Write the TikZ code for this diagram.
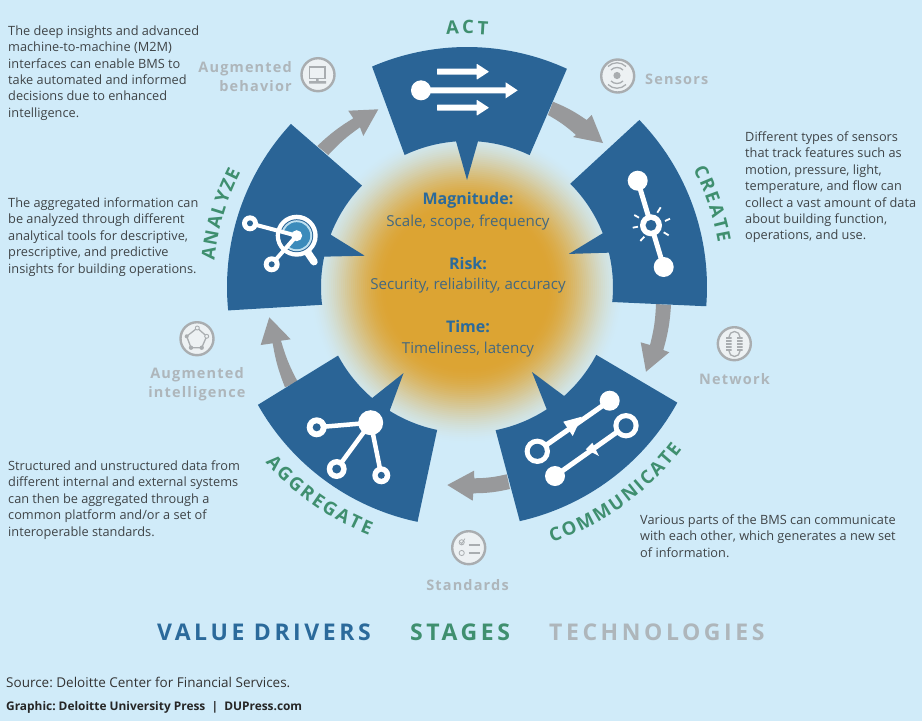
\documentclass[tikz,border=0pt]{standalone}
\usepackage{fontspec}
\setmainfont{Open Sans}
\newfontfamily\spacedfont[LetterSpace=8]{Open Sans}
\newfontfamily\wordmark[LetterSpace=15.5]{Open Sans}
\usetikzlibrary{decorations.text}
\definecolor{bgsky}{HTML}{D0EBF9}
\definecolor{goldcore}{HTML}{DCA433}
\definecolor{segblue}{HTML}{2A6496}
\definecolor{midblue}{HTML}{3B8BBB}
\definecolor{lightring}{HTML}{BEE0F0}
\definecolor{stagegreen}{HTML}{3F8F6F}
\definecolor{flowgray}{HTML}{98999B}
\definecolor{techgray}{HTML}{AEB6BB}
\definecolor{icongray}{HTML}{A9ADB0}
\definecolor{icondisc}{HTML}{EDF1F3}
\definecolor{bodytext}{HTML}{3F4447}
\definecolor{drivertext}{HTML}{2B6A9B}
\definecolor{centertext}{HTML}{44687F}
\newcommand\segment[7]{%
  \fill[segblue] ([shift={(#1:240)}]0,0) arc[start angle=#1,end angle=#2,radius=240]
    -- ([shift={(#3:146)}]0,0) arc[start angle=#3,end angle=#4,radius=146]
    -- (#6:107) -- ([shift={(#5:146)}]0,0) arc[start angle=#5,end angle=#7,radius=146] -- cycle;}
\newcommand\flowarrow[7]{%
  \fill[flowgray] #1 to[bend left=6] #2 -- #3 -- #4 -- #5 -- #6 to[bend right=6] #7 -- cycle;}
\tikzset{
  bodynote/.style={anchor=north west,inner sep=0pt,align=left,text=bodytext,font=\frenchspacing\fontsize{12.75}{16.4}\selectfont},
  techlabel/.style={inner sep=0pt,text=techgray,font=\spacedfont\bfseries\fontsize{14.5}{18.6}\selectfont},
  centerhead/.style={inner sep=0pt,text=drivertext,font=\bfseries\fontsize{16}{18}\selectfont},
  centerline/.style={inner sep=0pt,text=centertext,font=\fontsize{15.1}{18}\selectfont},
  wordlabel/.style={inner sep=0pt,anchor=west,font=\wordmark\bfseries\fontsize{23}{25}\selectfont},
  techdisc/.style={draw=icongray,line width=2.4pt,fill=icondisc},
  iconline/.style={draw=icongray,line width=1.3pt},
  whiteline/.style={draw=white,line width=5pt},
  stagetext/.style={decorate,decoration={text along path,text={|\bfseries\fontsize{18.5}{20}\selectfont\color{stagegreen}|#1},text align={fit to path}}}
}
\begin{document}
\begin{tikzpicture}[x=1pt,y=-1pt]
\useasboundingbox (0,0) rectangle (922,721);
\fill[bgsky] (0,0) rectangle (922,721);
% glow as concentric discs
\foreach \rr in {160,158,...,2}{
  \pgfmathsetmacro\ss{min(1,max(0,(\rr-80)/80))}
  \pgfmathsetmacro\pp{100*(1-\ss*\ss*(3-2*\ss))}
  \fill[goldcore!\pp!bgsky] (467,287) circle[radius=\rr];
}
% flow arrows
\flowarrow{(553,101.7)}{(586.7,120)}{(591.7,115)}{(603,143)}{(573,137)}{(576,135)}{(548,115)}
\flowarrow{(671,305)}{(663.3,350)}{(669.3,352.3)}{(646,371.7)}{(640.7,342.3)}{(650,345)}{(656,304)}
\flowarrow{(510,489)}{(473.3,493.3)}{(472.7,500.7)}{(447.3,485)}{(474,470.7)}{(474.3,478.3)}{(506.7,474.3)}
\flowarrow{(285,387.3)}{(272.7,343.3)}{(260.7,345)}{(269.3,317.3)}{(290.7,339.3)}{(281,340.7)}{(297.7,381.7)}
\flowarrow{(317.3,146)}{(353.3,118.3)}{(348.3,110.7)}{(378.3,109.3)}{(363.3,136)}{(360,127.3)}{(328.3,155)}
% segments and curved stage names
\begin{scope}[shift={(467,287)},y=1pt]
\segment{113.3}{65.4}{64.6}{85.7}{94.3}{90}{115.3}
\segment{44.1}{-4.6}{-5.9}{13.6}{21.6}{18}{45}
\segment{-28.8}{-77.3}{-78.7}{-56.9}{-48.3}{-52.6}{-27.7}
\segment{258.1-360}{209.4-360}{208-360}{229.5-360}{238-360}{233.6-360}{258.2-360}
\segment{185.6}{137.2}{136}{159}{168}{163}{187}
\path[stagetext=ACT] (94.7:253) arc[start angle=94.7,end angle=85.3,radius=253];
\path[stagetext=CREATE] (27.5:255) arc[start angle=27.5,end angle=10,radius=255];
\path[stagetext=ANALYZE] (174:254) arc[start angle=174,end angle=153,radius=254];
\path[stagetext=COMMUNICATE] (-71.6:269) arc[start angle=-71.6,end angle=-37,radius=269];
\path[stagetext=AGGREGATE] (221:267) arc[start angle=221,end angle=248.5,radius=267];
\end{scope}
% ACT icon
\fill[white] (421,90.3) circle[radius=10];
\fill[white] (421,87.3) rectangle (505.7,93.3) (505.7,82.3) -- (517.7,90.3) -- (505.7,98.3) -- cycle;
\fill[white,rounded corners=0.5pt] (437,68.7) rectangle (476.7,74.7) (476.7,63.7) -- (489,71.7) -- (476.7,79.7) -- cycle;
\fill[white,rounded corners=0.5pt] (437,104.7) rectangle (476.7,110.7) (476.7,99.7) -- (489,107.7) -- (476.7,115.7) -- cycle;
% CREATE icon
\draw[whiteline] (637.7,180.7) -- (663.7,267);
\fill[white] (637.7,180.7) circle[radius=10] (663.7,267) circle[radius=10] (651,225.3) circle[radius=11];
\fill[segblue] (651,225.3) circle[radius=5.5];
\draw[white,line width=1.8pt] (634.3,215) -- (639,217.7) (632.7,227.7) -- (638,226.7) (640.3,241) -- (644.3,236.7)
  (663.7,232.3) -- (668.7,235.3) (665,221) -- (670,218.7) (657.3,212.7) -- (660.7,207.3);
% COMMUNICATE icon
\draw[whiteline] (537.3,451.3) -- (609.7,400.7) (555,476) -- (626,425.7);
\fill[white] (609.7,400.7) circle[radius=10] (555,476) circle[radius=10] (537.3,451.3) circle[radius=12.7] (626,425.7) circle[radius=12.7];
\fill[segblue] (537.3,451.3) circle[radius=7.5] (626,425.7) circle[radius=7.5];
\fill[white] (563.3,421.7) -- (572.7,436) -- (581.7,416.7) -- cycle;
\fill[white] (585.7,449.3) -- (599,456) -- (592.3,442.7) -- cycle;
% AGGREGATE icon
\draw[draw=white,line width=4.5pt] (370.7,422.7) -- (316.7,427.3) (370.7,422.7) -- (336.7,469) (370.7,422.7) -- (381.3,475.3);
\fill[white] (370.7,422.7) circle[radius=12.5] (316.7,427.3) circle[radius=10] (336.7,469) circle[radius=10] (381.3,475.3) circle[radius=9];
\fill[segblue] (316.7,427.3) circle[radius=4] (336.7,469) circle[radius=4.5] (381.3,475.3) circle[radius=3.5];
% ANALYZE icon
\draw[draw=white,line width=7.5pt,line cap=round] (308.3,253.3) -- (314,261.7);
\fill[white] (296.7,235.7) circle[radius=21];
\fill[segblue] (296.7,235.7) circle[radius=16.5];
\fill[lightring] (296.7,235.7) circle[radius=15.5];
\fill[midblue] (296.7,235.7) circle[radius=13.5];
\begin{scope}
\clip (296.7,235.7) circle[radius=16.5];
\fill[segblue] (296.7,235.7) -- (250,223.3) -- (271.7,264.3) -- cycle;
\end{scope}
\draw[draw=white,line width=4pt] (250,223.3) -- (296.7,235.7) (271.7,264.3) -- (296.7,235.7);
\fill[white] (296.7,235.7) circle[radius=5.5] (250,223.3) circle[radius=8] (271.7,264.3) circle[radius=8];
\fill[segblue] (250,223.3) circle[radius=3] (271.7,264.3) circle[radius=3];
% technology icons
\draw[techdisc] (617.7,76) circle[radius=16.5];
\fill[icongray] (617,75.5) circle[radius=3.6];
\draw[iconline] (611,70) arc[start angle=-135,end angle=-45,radius=8.5] (608,66.5) arc[start angle=-135,end angle=-45,radius=12.7];
\draw[iconline] (611,81) arc[start angle=135,end angle=45,radius=8.5] (608,84.5) arc[start angle=135,end angle=45,radius=12.7];
\draw[techdisc] (318,74.7) circle[radius=16.5];
\draw[iconline] (309.5,67) rectangle (325,78.3);
\fill[icongray] (316,78.3) rectangle (318.5,81) (309,81) rectangle (326,83.5);
\draw[techdisc] (734.3,343.7) circle[radius=16.5];
\draw[iconline] (729,337) arc[start angle=180,end angle=360,radius=5.5] (729,351) arc[start angle=180,end angle=0,radius=5.5];
\foreach \py in {338,341,344,347,350}{\fill[icongray] (726,\py-0.9) rectangle (731.5,\py+0.9) (737,\py-0.9) rectangle (742.5,\py+0.9);}
\draw[techdisc] (468.7,547.7) circle[radius=16.5];
\draw[icongray,line width=0.8pt] (461.7,542.3) circle[radius=2.6] (461.7,553) circle[radius=2.6] (460.5,542.2) -- (461.7,543.6) -- (465,538.6);
\draw[iconline] (468.5,545) -- (480,545) (468.5,553) -- (480,553);
\draw[techdisc] (197,338.7) circle[radius=16.5];
\draw[iconline] (197.3,328) -- (206.7,336.3) -- (201.7,347.7) -- (191,347.7) -- (186.7,336.3) -- cycle;
\fill[icongray] (201.7,347.7) circle[radius=2.2] (191,347.7) circle[radius=2.2] (186.7,336.3) circle[radius=2];
\draw[icongray,line width=0.9pt,fill=icondisc] (197.3,328) circle[radius=2] (206.7,336.3) circle[radius=2];
% technology labels
\node[techlabel,anchor=east,align=right] (lbehavior) at (292,76.5) {Augmented\\behavior};
\node[techlabel,anchor=west] (lsensors) at (645,79) {Sensors};
\node[techlabel,anchor=west] (lnetwork) at (699,379) {Network};
\node[techlabel,align=center] (lintel) at (197,384) {Augmented\\intelligence};
\node[techlabel] (lstandards) at (467.5,585) {Standards};
% notes
\node[bodynote] (nact) at (8,25.5) {The deep insights and advanced\\machine-to-machine (M2M)\\interfaces can enable BMS to\\take automated and informed\\decisions due to enhanced\\intelligence.};
\node[bodynote] (nanalyze) at (8,197.5) {The aggregated information can\\be analyzed through different\\analytical tools for descriptive,\\prescriptive, and predictive\\insights for building operations.};
\node[bodynote] (ncreate) at (745,131.5) {Different types of sensors\\that track features such as\\motion, pressure, light,\\temperature, and flow can\\collect a vast amount of data\\about building function,\\operations, and use.};
\node[bodynote] (naggr) at (8,460.5) {Structured and unstructured data from\\different internal and external systems\\can then be aggregated through a\\common platform and/or a set of\\interoperable standards.};
\node[bodynote] (ncomm) at (640,514.5) {Various parts of the BMS can communicate\\with each other, which generates a new set\\of information.};
% centre
\node[centerhead] (hmag) at (468,200) {Magnitude:};
\node[centerline] (tmag) at (468,222.5) {Scale, scope, frequency};
\node[centerhead] (hrisk) at (468,264) {Risk:};
\node[centerline] (trisk) at (468,285.5) {Security, reliability, accuracy};
\node[centerhead] (htime) at (468,327) {Time:};
\node[centerline] (ttime) at (468,349.5) {Timeliness, latency};
% legend
\node[wordlabel,text=drivertext] (wdrivers) at (157,632) {VALUE DRIVERS};
\node[wordlabel,text=stagegreen] (wstages) at (410,632) {STAGES};
\node[wordlabel,text=techgray] (wtech) at (549,632) {TECHNOLOGIES};
% footer
\node[inner sep=0pt,anchor=west,text=black!80,font=\frenchspacing\fontsize{13.5}{15}\selectfont] (fsource) at (6,682.5) {Source: Deloitte Center for Financial Services.};
\node[inner sep=0pt,anchor=west,text=black!85,font=\frenchspacing\bfseries\fontsize{11.9}{15}\selectfont] (fgraphic) at (6,707.5) {Graphic: Deloitte University Press\ \ |\ \ DUPress.com};
\end{tikzpicture}
\end{document}
